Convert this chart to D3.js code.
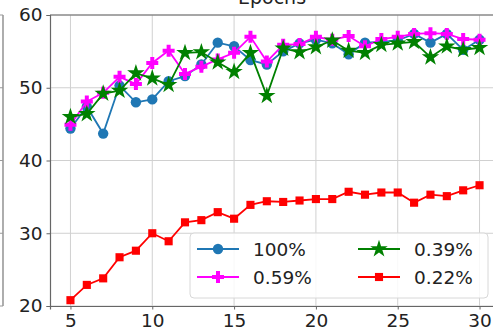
<!DOCTYPE html>
<html><head><meta charset="utf-8">
<script src="https://cdn.jsdelivr.net/npm/d3@7"></script>
<style>
html,body{margin:0;padding:0;background:#fff;overflow:hidden;}
svg{display:block;font-family:"DejaVu Sans",sans-serif;}
</style></head>
<body>
<svg id="c" width="493" height="334"></svg>
<script>
const epochs = [5,6,7,8,9,10,11,12,13,14,15,16,17,18,19,20,21,22,23,24,25,26,27,28,29,30];
const s100  = [44.4,47.4,43.7,50.3,48.0,48.4,50.9,51.6,53.2,56.2,55.7,53.8,53.2,55.0,56.1,56.6,56.1,54.6,56.2,56.3,56.5,57.4,56.2,57.4,55.2,56.6];
const s059  = [44.9,48.1,49.3,51.5,50.5,53.4,55.1,51.9,52.9,53.9,54.8,57.0,53.6,55.9,56.0,57.0,56.6,57.1,55.7,56.7,57.0,57.4,57.5,57.4,56.7,56.6];
const s039  = [46.0,46.4,49.2,49.6,52.0,51.3,50.4,54.8,54.9,53.5,52.2,54.8,48.9,55.4,54.9,55.6,56.5,55.1,54.8,55.9,56.1,56.3,54.2,55.7,55.2,55.5];
const s022  = [20.8,22.9,23.8,26.7,27.6,30.0,28.9,31.5,31.8,32.9,32.0,33.9,34.4,34.3,34.5,34.7,34.7,35.7,35.3,35.6,35.6,34.2,35.3,35.1,35.9,36.6];
const seriesNames = ["100%","0.59%","0.39%","0.22%"];
const xTicks = [5,10,15,20,25,30];
const yTicks = [20,30,40,50,60];
const titleText = "Epochs";

const series = [
  {name:seriesNames[0], values:s100, color:"#1f77b4", sym:d3.symbolCircle, size:85},
  {name:seriesNames[1], values:s059, color:"#ff00ff", sym:d3.symbolCross, size:80},
  {name:seriesNames[2], values:s039, color:"#008000", sym:d3.symbolStar, size:95},
  {name:seriesNames[3], values:s022, color:"#ff0000", sym:d3.symbolSquare, size:66}
];

const svg = d3.select("#c");
const x = d3.scaleLinear().domain([3.75,31.25]).range([50,500]);
const y = d3.scaleLinear().domain([20,60]).range([306,15]);

// neighbouring panel edge on the left
svg.append("line").attr("x1",3).attr("x2",3).attr("y1",15).attr("y2",306).attr("stroke","#777").attr("stroke-width",1.2);
yTicks.forEach(t=>{
  svg.append("line").attr("x1",0).attr("x2",3).attr("y1",y(t)).attr("y2",y(t)).attr("stroke","#999").attr("stroke-width",1);
});

// grid
const g = svg.append("g");
g.selectAll(".gx").data(xTicks).enter().append("line")
  .attr("x1",d=>x(d)).attr("x2",d=>x(d)).attr("y1",15).attr("y2",306)
  .attr("stroke","#d0d0d0").attr("stroke-width",1);
g.selectAll(".gy").data(yTicks).enter().append("line")
  .attr("x1",50).attr("x2",500).attr("y1",d=>y(d)).attr("y2",d=>y(d))
  .attr("stroke","#d0d0d0").attr("stroke-width",1);

// axes
const xAxis = d3.axisBottom(x).tickValues(xTicks).tickSize(3.5).tickPadding(4);
const yAxis = d3.axisLeft(y).tickValues(yTicks).tickSize(3.5).tickPadding(4);
const gx = svg.append("g").attr("transform","translate(0,306)").call(xAxis);
const gy = svg.append("g").attr("transform","translate(50,0)").call(yAxis);
[gx,gy].forEach(a=>{
  a.select(".domain").attr("stroke","#666").attr("stroke-width",1.2);
  a.selectAll(".tick line").attr("stroke","#666");
  a.selectAll("text").attr("font-size",18.5).attr("fill","#222").attr("font-family","DejaVu Sans");
});
// top spine
svg.append("line").attr("x1",50).attr("x2",500).attr("y1",15).attr("y2",15).attr("stroke","#666").attr("stroke-width",1.2);

// title (clipped at top, as in the reference)
svg.append("text").attr("x",272).attr("y",4).attr("text-anchor","middle")
  .attr("font-size",19).attr("fill","#222").text(titleText);

// series
const line = d3.line().x((d,i)=>x(epochs[i])).y(d=>y(d));
series.forEach(s=>{
  svg.append("path").datum(s.values).attr("d",line)
    .attr("fill","none").attr("stroke",s.color).attr("stroke-width",1.8);
  svg.selectAll(null).data(s.values).enter().append("path")
    .attr("d",d3.symbol().type(s.sym).size(s.size))
    .attr("transform",(d,i)=>`translate(${x(epochs[i])},${y(d)})`)
    .attr("fill",s.color);
});

// legend
const lg = svg.append("g");
lg.append("rect").attr("x",190).attr("y",233).attr("width",298).attr("height",65)
  .attr("rx",4).attr("fill","rgba(255,255,255,0.85)").attr("stroke","#d8d8d8").attr("stroke-width",1);
const pos = [[197,249],[197,277],[358,249],[358,277]];
series.forEach((s,i)=>{
  const [lx,ly] = pos[i];
  lg.append("line").attr("x1",lx).attr("x2",lx+42).attr("y1",ly).attr("y2",ly)
    .attr("stroke",s.color).attr("stroke-width",1.8);
  lg.append("path").attr("d",d3.symbol().type(s.sym).size(s.size))
    .attr("transform",`translate(${lx+21},${ly})`).attr("fill",s.color);
  lg.append("text").attr("x",lx+56).attr("y",ly+6.5).attr("font-size",18.5).attr("fill","#222").text(s.name);
});
</script>
</body></html>
